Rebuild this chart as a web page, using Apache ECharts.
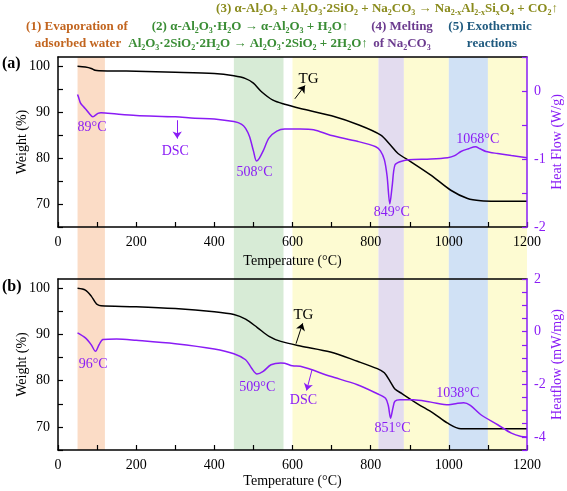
<!DOCTYPE html>
<html>
<head>
<meta charset="utf-8">
<script src="https://cdn.jsdelivr.net/npm/echarts@6/dist/echarts.min.js"></script>
<style>html,body{margin:0;padding:0;background:#fff}#c{width:567px;height:491px}</style>
</head>
<body>
<div id="c"></div>
<script>
// ---------- data ----------
const xTicks = [0, 200, 400, 600, 800, 1000, 1200];
const weightTicks = [70, 80, 90, 100];
const heatTicksA = [-2, -1, 0];
const heatTicksB = [-4, -2, 0, 2];

const bandStart = [50, 450, 600, 820, 885, 1000, 1100];
const bandEnd   = [120, 577, 820, 885, 1000, 1100, 1200];

const tgA_T = [50,70,85,95,105,150,200,300,400,450,480,500,520,550,580,620,700,770,826,851,870,903,954,1005,1048,1082,1120,1200];
const tgA_W = [100.0,99.8,99.5,99.1,99.0,98.95,98.9,98.7,98.4,97.9,97.3,96.3,94.5,92.6,91.7,90.8,89.2,87.2,85.0,82.8,81.0,79.2,76.3,73.0,71.2,70.7,70.6,70.6];

const dscA_T = [50,53,57,62,70,80,89,95,102,110,150,200,300,350,400,450,470,480,490,500,508,515,525,540,560,580,620,654,697,766,813,825,835,842,849,855,862,875,897,954,997,1015,1031,1050,1068,1080,1095,1125,1160,1200];
const dscA_V = [-0.05,-0.1,-0.17,-0.21,-0.26,-0.33,-0.38,-0.36,-0.33,-0.32,-0.34,-0.36,-0.38,-0.40,-0.41,-0.45,-0.49,-0.55,-0.67,-0.88,-1.03,-0.99,-0.88,-0.69,-0.59,-0.56,-0.56,-0.57,-0.65,-0.74,-0.82,-0.88,-1.01,-1.25,-1.66,-1.40,-1.09,-1.04,-1.01,-1.00,-0.98,-0.95,-0.89,-0.85,-0.82,-0.85,-0.89,-0.92,-0.95,-0.98];

const tgB_T = [50,70,85,95,100,110,200,300,400,450,480,510,540,570,620,697,766,817,835,850,862,880,920,960,997,1031,1200];
const tgB_W = [100,99.6,98.3,97.0,96.5,96.2,96.0,95.6,94.9,94.3,93.3,91.5,89.6,88.5,87.5,86.2,84.2,82.6,81.7,79.8,78.2,77.2,75.0,73.0,70.8,69.6,69.6];

const dscB_T = [50,70,85,96,105,115,150,200,300,400,450,480,495,509,525,545,570,580,600,620,697,766,817,838,845,851,857,862,875,909,954,1000,1020,1038,1055,1082,1125,1160,1185,1200];
const dscB_V = [-0.05,-0.24,-0.5,-0.75,-0.5,-0.3,-0.28,-0.33,-0.46,-0.66,-0.84,-1.07,-1.38,-1.61,-1.51,-1.26,-1.19,-1.2,-1.3,-1.32,-1.70,-2.02,-2.36,-2.53,-2.8,-3.29,-2.9,-2.65,-2.59,-2.59,-2.68,-2.78,-2.73,-2.70,-2.80,-3.16,-3.54,-3.86,-3.99,-4.01];

// ---------- styles ----------
const bandColors = ['#fbdcc6', '#d7ebd6', '#fdfbd2', '#e3dcef', '#fdfbd2', '#d0e1f5', '#fdfbd2'];
const PURPLE = '#8a1cf5';
const FONT = "'Liberation Serif','Times New Roman',serif";

const zip = (a, b) => a.map((v, i) => [v, b[i]]);

const chart = echarts.init(document.getElementById('c'), null, {renderer: 'canvas'});

function xAxisFor(grid, gap) {
  return {
    type: 'value', gridIndex: grid, min: 0, max: 1200, interval: 100, z: 10, position: 'bottom',
    name: 'Temperature (°C)', nameLocation: 'middle', nameGap: gap, nameMoveOverlap: false,
    nameTextStyle: {fontFamily: FONT, fontSize: 14, color: '#000'},
    axisLine: {show: true, onZero: false, lineStyle: {color: '#000', width: 1.5}},
    axisTick: {show: true, inside: true, length: 5, lineStyle: {color: '#000', width: 1.2}},
    axisLabel: {fontFamily: FONT, fontSize: 14, color: '#000', margin: 8,
      formatter: v => (xTicks.indexOf(v) >= 0 ? String(v) : '')},
    splitLine: {show: false}
  };
}
function topAxisFor(grid) {
  return {type: 'value', gridIndex: grid, min: 0, max: 1200, position: 'top', z: 10,
    axisLine: {show: true, onZero: false, lineStyle: {color: '#000', width: 1.5}}, axisTick: {show: false}, axisLabel: {show: false}, splitLine: {show: false}};
}
function leftAxisFor(grid) {
  return {
    type: 'value', gridIndex: grid, min: 65, max: 102, interval: 5, position: 'left', z: 10,
    name: 'Weight (%)', nameLocation: 'middle', nameGap: 29, nameMoveOverlap: false,
    nameTextStyle: {fontFamily: FONT, fontSize: 14, color: '#000'},
    axisLine: {show: true, onZero: false, lineStyle: {color: '#000', width: 1.5}},
    axisTick: {show: true, inside: true, length: 5, lineStyle: {color: '#000', width: 1.2}},
    axisLabel: {fontFamily: FONT, fontSize: 14, color: '#000', margin: 8, showMaxLabel: false,
      formatter: v => (weightTicks.indexOf(v) >= 0 ? String(v) : '')},
    splitLine: {show: false}
  };
}
function rightAxisFor(grid, min, max, step, labels, name) {
  return {
    type: 'value', gridIndex: grid, min: min, max: max, interval: step, position: 'right', z: 11,
    name: name, nameLocation: 'middle', nameGap: 23, nameMoveOverlap: false,
    nameTextStyle: {fontFamily: FONT, fontSize: 14, color: PURPLE},
    axisLine: {show: true, onZero: false, lineStyle: {color: PURPLE, width: 1.5}},
    axisTick: {show: true, inside: true, length: 5, lineStyle: {color: PURPLE, width: 1.2}},
    axisLabel: {fontFamily: FONT, fontSize: 14, color: PURPLE, margin: 7,
      formatter: v => (labels.indexOf(v) >= 0 ? String(v) : '')},
    splitLine: {show: false}
  };
}

const lbl = (c, size) => ({show: true, position: 'inside', color: c, fontFamily: FONT, fontSize: size || 14, formatter: p => p.data.txt});
const mp = (items, color, size) => ({
  symbol: 'rect', symbolSize: 1, itemStyle: {color: 'rgba(0,0,0,0)'}, silent: true,
  label: lbl(color, size),
  data: items.map(it => ({coord: [it[0], it[1]], txt: it[2]}))
});
const ml = (segs, color) => ({
  symbol: ['none', 'arrow'], symbolSize: 7, silent: true,
  lineStyle: {color: color, width: 1, type: 'solid'}, label: {show: false},
  data: segs.map(s => [{coord: [s[0], s[1]]}, {coord: [s[2], s[3]]}])
});

const G = {outerBoundsMode: 'none', containLabel: false, show: false};
const option = {
  animation: false,
  backgroundColor: '#fff',
  grid: [
    Object.assign({left: 58, top: 57, width: 469, height: 393}, G),
    Object.assign({left: 58, top: 57, width: 469, height: 170}, G),
    Object.assign({left: 58, top: 279, width: 469, height: 171}, G)
  ],
  xAxis: [
    {type: 'value', gridIndex: 0, min: 0, max: 1200, show: false},
    xAxisFor(1, 27), xAxisFor(2, 24), topAxisFor(1), topAxisFor(2)
  ],
  yAxis: [
    {type: 'value', gridIndex: 0, min: 0, max: 1, show: false},
    leftAxisFor(1),
    rightAxisFor(1, -2, 0.5, 0.5, heatTicksA, 'Heat Flow (W/g)'),
    leftAxisFor(2),
    rightAxisFor(2, -4.5, 2, 0.5, heatTicksB, 'Heatflow (mW/mg)')
  ],
  series: [
    {type: 'line', xAxisIndex: 0, yAxisIndex: 0, data: [], z: 1, silent: true,
      markArea: {silent: true, data: bandStart.map((s, i) => [{xAxis: s, itemStyle: {color: bandColors[i]}}, {xAxis: bandEnd[i]}])}},
    {type: 'line', xAxisIndex: 1, yAxisIndex: 1, data: zip(tgA_T, tgA_W), smooth: 0.3, showSymbol: false, z: 5,
      lineStyle: {color: '#000', width: 1.5},
      markPoint: mp([[641, 97.3, 'TG']], '#000', 15),
      markLine: ml([[606, 92.9, 632, 95.8]], '#000')},
    {type: 'line', xAxisIndex: 1, yAxisIndex: 2, data: zip(dscA_T, dscA_V), smooth: 0.3, showSymbol: false, z: 6,
      lineStyle: {color: PURPLE, width: 1.5},
      markPoint: mp([[87, -0.54, '89°C'], [300, -0.88, 'DSC'], [503, -1.19, '508°C'], [854, -1.78, '849°C'], [1074, -0.71, '1068°C']], PURPLE, 14),
      markLine: ml([[305, -0.43, 305, -0.7]], PURPLE)},
    {type: 'line', xAxisIndex: 2, yAxisIndex: 3, data: zip(tgB_T, tgB_W), smooth: 0.3, showSymbol: false, z: 5,
      lineStyle: {color: '#000', width: 1.5},
      markPoint: mp([[628, 94.1, 'TG']], '#000', 15),
      markLine: ml([[609, 88.0, 626, 92.4]], '#000')},
    {type: 'line', xAxisIndex: 2, yAxisIndex: 4, data: zip(dscB_T, dscB_V), smooth: 0.3, showSymbol: false, z: 6,
      lineStyle: {color: PURPLE, width: 1.5},
      markPoint: mp([[90, -1.26, '96°C'], [510, -2.1, '509°C'], [628, -2.63, 'DSC'], [856, -3.66, '851°C'], [1023, -2.36, '1038°C']], PURPLE, 14),
      markLine: ml([[650, -1.45, 636, -2.24]], PURPLE)}
  ]
};
chart.setOption(option);

// ---------- header texts (rich text with subscripts) ----------
function rich(str) { return str.replace(/_\{([^}]*)\}/g, '{s|$1}'); }
function headText(x, y, str, color) {
  return {
    type: 'text', x: x, y: y, z: 20, silent: true,
    style: {
      text: rich(str), fill: color, align: 'center', verticalAlign: 'middle',
      font: "bold 13px 'Liberation Serif','Times New Roman',serif", lineHeight: 15,
      rich: {s: {fontSize: 8, fontWeight: 'bold', fontFamily: FONT, fill: color, color: color, lineHeight: 8, verticalAlign: 'bottom'}}
    }
  };
}
const OLIVE = '#8a8b1d', ORANGE = '#c2651f', GREEN = '#3a8d35', VIOLET = '#6c3c8f', TEAL = '#1f5a7f';
chart.setOption({
  graphic: [
    headText(387, 9, '(3) α-Al_{2}O_{3} + Al_{2}O_{3}·2SiO_{2} + Na_{2}CO_{3} → Na_{2-x}Al_{2-x}Si_{x}O_{4} + CO_{2}↑', OLIVE),
    headText(77, 27, '(1) Evaporation of', ORANGE),
    headText(78, 44, 'adsorbed water', ORANGE),
    headText(250, 27, '(2) α-Al_{2}O_{3}·H_{2}O → α-Al_{2}O_{3} + H_{2}O↑', GREEN),
    headText(248, 44, 'Al_{2}O_{3}·2SiO_{2}·2H_{2}O → Al_{2}O_{3}·2SiO_{2} + 2H_{2}O↑', GREEN),
    headText(402, 27, '(4) Melting', VIOLET),
    headText(402, 44, 'of Na_{2}CO_{3}', VIOLET),
    headText(490, 27, '(5) Exothermic', TEAL),
    headText(492, 44, 'reactions', TEAL),
    {type: 'text', x: 2, y: 64, z: 20, style: {text: '(a)', fill: '#000', verticalAlign: 'middle', font: "bold 16px 'Liberation Serif','Times New Roman',serif"}},
    {type: 'text', x: 2, y: 287, z: 20, style: {text: '(b)', fill: '#000', verticalAlign: 'middle', font: "bold 16px 'Liberation Serif','Times New Roman',serif"}}
  ]
});
</script>
</body>
</html>
